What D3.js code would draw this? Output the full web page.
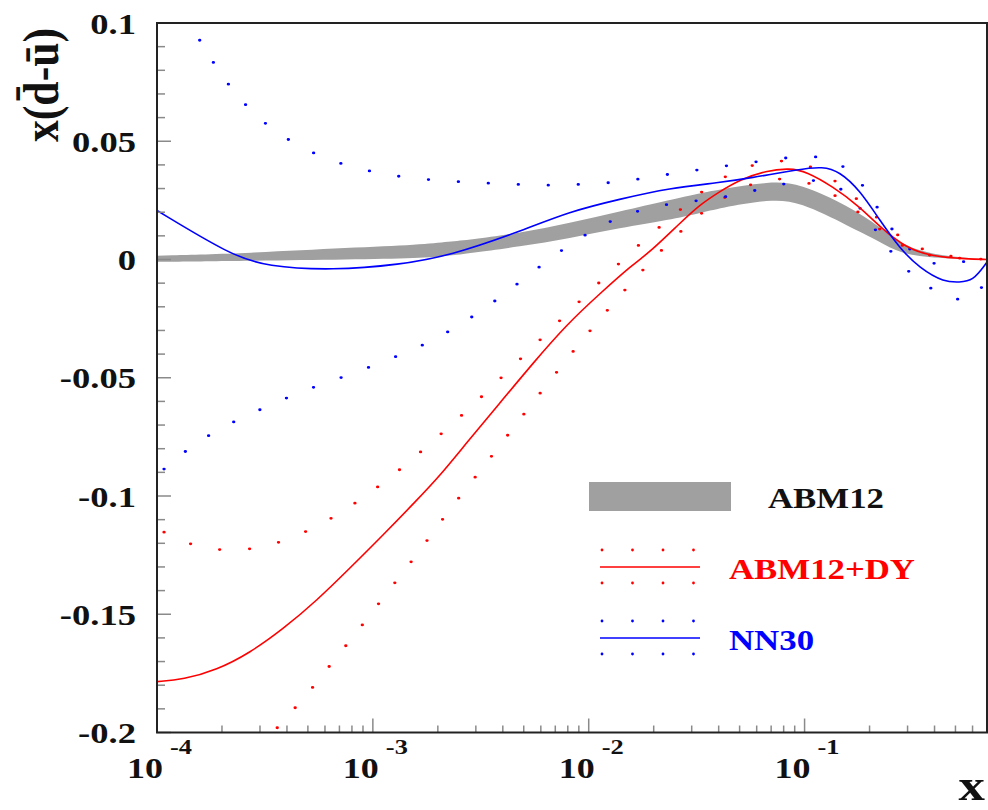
<!DOCTYPE html>
<html><head><meta charset="utf-8">
<script src="https://cdn.jsdelivr.net/npm/d3@7"></script>
<style>body{margin:0;background:#fff}svg{display:block}</style>
</head><body>
<svg id="c" width="988" height="810"></svg>
<script>
// ---- data ----
const xDomain = [1e-4, 0.7];
const yDomain = [-0.2, 0.1];
const yTickLabels = ["-0.2", "-0.15", "-0.1", "-0.05", "0", "0.05", "0.1"];
const xMajorTicks = [1e-4, 1e-3, 1e-2, 1e-1];
const xTickExponents = ["-4", "-3", "-2", "-1"];
const seriesNames = ["ABM12", "ABM12+DY", "NN30"];

// ABM12 band
const abm12X  = [1e-4, 2.7e-4, 7.8e-4, 1.65e-3, 2.27e-3, 2.81e-3, 4.79e-3, 8.16e-3, 1.39e-2, 2.37e-2, 3.27e-2, 4.04e-2, 6.89e-2, 9.48e-2, 0.1615, 0.2224, 0.2754, 0.379, 0.7];
const abm12Hi = [0.0016, 0.0027, 0.005, 0.0062, 0.0076, 0.0083, 0.0112, 0.0154, 0.0203, 0.0252, 0.028, 0.0297, 0.033, 0.0323, 0.0224, 0.0139, 0.0069, 0.002, 0.0];
const abm12Lo = [-0.001, -0.0005, 0.0, 0.0006, 0.0016, 0.0027, 0.0055, 0.009, 0.0133, 0.0168, 0.0196, 0.0217, 0.0255, 0.0245, 0.0139, 0.0076, 0.0027, 0.0006, 0.0];

// ABM12+DY
const dyCentral = [[1e-4,-0.1785],[1.323e-4,-0.1776],[1.889e-4,-0.1736],[2.696e-4,-0.1663],[3.843e-4,-0.1562],[5.487e-4,-0.1443],[7.828e-4,-0.1305],[1.116e-3,-0.1165],[1.593e-3,-0.1019],[2.042e-3,-0.0915],[2.715e-3,-0.0776],[3.873e-3,-0.0607],[5.522e-3,-0.0438],[7.883e-3,-0.0276],[1.124e-2,-0.0145],[1.603e-2,-0.002],[1.916e-2,0.003],[2.657e-2,0.0155],[3.265e-2,0.0231],[4.041e-2,0.0287],[5.001e-2,0.0337],[6.648e-2,0.0376],[8.522e-2,0.0386],[0.1018,0.0372],[0.1352,0.0308],[0.1797,0.0224],[0.2224,0.0139],[0.2955,0.0048],[0.3927,0.0013],[0.5605,0.0002],[0.7,0.0]];
const dyUpper = [[1.078e-4,-0.1153],[1.422e-4,-0.1207],[1.936e-4,-0.1231],[2.676e-4,-0.1228],[3.633e-4,-0.12],[4.881e-4,-0.1153],[6.439e-4,-0.1095],[8.343e-4,-0.1029],[1.066e-3,-0.0959],[1.358e-3,-0.0883],[1.709e-3,-0.0805],[2.143e-3,-0.0725],[2.686e-3,-0.0645],[3.345e-3,-0.0562],[4.141e-3,-0.048],[5.146e-3,-0.0395],[6.392e-3,-0.0313],[7.932e-3,-0.0228],[9.842e-3,-0.0146],[1.225e-2,-0.0063],[1.52e-2,0.002],[1.902e-2,0.01],[2.397e-2,0.0177],[3.04e-2,0.0255],[3.762e-2,0.0325],[5.147e-2,0.0386],[6.938e-2,0.0421],[9.552e-2,0.0414],[0.126,0.0362],[0.1603,0.0287],[0.2,0.0206],[0.2493,0.0125],[0.3206,0.0055],[0.4321,0.0013],[0.7,0.0]];
const dyLower = [[3.606e-4,-0.198],[4.386e-4,-0.1894],[5.332e-4,-0.1804],[6.391e-4,-0.1711],[7.687e-4,-0.1621],[9.251e-4,-0.1528],[1.109e-3,-0.1433],[1.329e-3,-0.1342],[1.593e-3,-0.1249],[1.896e-3,-0.1155],[2.249e-3,-0.1062],[2.715e-3,-0.0967],[3.254e-3,-0.0876],[3.901e-3,-0.0783],[4.676e-3,-0.0689],[5.606e-3,-0.0596],[6.721e-3,-0.0504],[8.077e-3,-0.0412],[9.716e-3,-0.0321],[1.182e-2,-0.0229],[1.432e-2,-0.0141],[1.746e-2,-0.0053],[2.143e-2,0.0034],[2.657e-2,0.0118],[3.335e-2,0.0199],[4.294e-2,0.0266],[5.664e-2,0.0323],[7.717e-2,0.0348],[0.1055,0.0327],[0.1391,0.0273],[0.1778,0.02],[0.2265,0.0123],[0.2881,0.0048],[0.3861,0.001],[0.7,0.0]];

// NN30
const nnCentral = [[1e-4,0.0207],[2.18e-4,0.002],[3.23e-4,-0.003],[6.53e-4,-0.0046],[1.334e-3,-0.0022],[2.27e-3,0.0016],[4.79e-3,0.0118],[8.16e-3,0.0203],[1.39e-2,0.0255],[2.37e-2,0.0302],[4.04e-2,0.0325],[5.56e-2,0.0344],[9.48e-2,0.0382],[0.1212,0.0393],[0.1452,0.0372],[0.1797,0.0294],[0.2224,0.0168],[0.2754,0.0048],[0.3407,-0.0036],[0.4448,-0.0097],[0.522,-0.0095],[0.5993,-0.0093],[0.6961,-0.0014]];
const nnUpper = [[1.577e-4,0.0927],[1.836e-4,0.0827],[2.171e-4,0.0731],[2.63e-4,0.0642],[3.275e-4,0.0562],[4.262e-4,0.0493],[5.623e-4,0.0438],[7.581e-4,0.0396],[1.032e-3,0.0368],[1.417e-3,0.0346],[1.957e-3,0.0335],[2.695e-3,0.0327],[3.71e-3,0.0321],[5.125e-3,0.0316],[7.036e-3,0.0313],[9.716e-3,0.0319],[1.334e-2,0.0325],[1.836e-2,0.0345],[2.52e-2,0.0365],[3.454e-2,0.0383],[4.742e-2,0.0401],[6.529e-2,0.0418],[8.989e-2,0.0435],[0.1238,0.0438],[0.1615,0.0382],[0.1957,0.029],[0.2265,0.019],[0.2704,0.0093],[0.3324,0.001],[0.4415,-0.0038],[0.591,0.0003],[0.6961,0.001]];
const nnLower = [[1.078e-4,-0.0886],[1.362e-4,-0.0807],[1.759e-4,-0.0739],[2.32e-4,-0.0681],[3.086e-4,-0.063],[4.127e-4,-0.0579],[5.521e-4,-0.0534],[7.422e-4,-0.0494],[9.968e-4,-0.045],[1.334e-3,-0.0404],[1.784e-3,-0.0355],[2.339e-3,-0.0296],[3.04e-3,-0.0229],[3.901e-3,-0.0159],[4.964e-3,-0.0084],[6.324e-3,-0.0011],[8.077e-3,0.0061],[1.051e-2,0.0125],[1.391e-2,0.0182],[1.889e-2,0.0218],[2.582e-2,0.0241],[3.536e-2,0.0252],[4.844e-2,0.0273],[6.648e-2,0.0304],[9.085e-2,0.033],[0.1255,0.0341],[0.1603,0.0278],[0.193,0.0185],[0.2265,0.0087],[0.2704,-0.0005],[0.3345,-0.009],[0.4368,-0.0153],[0.591,-0.0187],[0.6813,-0.0099]];

// ---- drawing ----
const FONT = "'Liberation Serif','Times New Roman',serif";
const STRETCH = 1.2;
const svg = d3.select("#c");
const L = 157, R = 987, T = 23, B = 732.5;
const x = d3.scaleLog().domain(xDomain).range([L, R]);
const y = d3.scaleLinear().domain(yDomain).range([B, T]);

svg.append("defs").append("clipPath").attr("id","clip")
  .append("rect").attr("x",L).attr("y",T).attr("width",R-L).attr("height",B-T);
const plot = svg.append("g").attr("clip-path","url(#clip)");

const RED = "#ff0000", BLUE = "#0000ff", GRAY = "#a0a0a0";

// band
const bandData = abm12X.map((v,i)=>({x:v, lo:abm12Lo[i], hi:abm12Hi[i]}));
plot.append("path").datum(bandData)
  .attr("fill", GRAY)
  .attr("d", d3.area().x(d=>x(d.x)).y0(d=>y(d.lo)).y1(d=>y(d.hi)).curve(d3.curveBasis));

const line = d3.line().x(d=>x(d[0])).y(d=>y(d[1])).curve(d3.curveBasis);
// dotted curves: drawn in an un-stretched frame so that dot spacing matches the source
const dotFrame = plot.append("g").attr("transform", `scale(${STRETCH},1)`);
const lineU = d3.line().x(d=>x(d[0])/STRETCH).y(d=>y(d[1])).curve(d3.curveBasis);
function dotted(data, color){
  dotFrame.append("path").datum(data).attr("d", lineU)
    .attr("fill","none").attr("stroke", color).attr("stroke-width",2.8)
    .attr("stroke-linecap","round").attr("stroke-dasharray","0 25");
}
function solid(data, color){
  plot.append("path").datum(data).attr("d", line)
    .attr("fill","none").attr("stroke", color).attr("stroke-width",1.6);
}
dotted(dyUpper, RED); dotted(dyLower, RED);
dotted(nnUpper, BLUE); dotted(nnLower, BLUE);
solid(dyCentral, RED);
solid(nnCentral, BLUE);

// y ticks
const yTicks = d3.range(-20, 11).map(i => i/100);
svg.append("g").selectAll("line").data(yTicks).join("line")
  .attr("x1", L).attr("x2", d => L + (Math.abs(Math.round(d*100)) % 5 === 0 ? 14 : 8))
  .attr("y1", d => y(d)).attr("y2", d => y(d))
  .attr("stroke", "#8a8a8a").attr("stroke-width", 1.5);
const yMajor = d3.range(-20, 11, 5).map(i => i/100);
svg.append("g").selectAll("text").data(yMajor).join("text")
  .attr("transform", d => `translate(136,${y(d)}) scale(1.22,1)`)
  .attr("text-anchor","end").attr("dy","0.35em")
  .attr("font-family", FONT).attr("font-weight","bold").attr("font-size",30)
  .attr("fill","#111")
  .text((d,i) => yTickLabels[i]);

// x ticks
const xMinor = [];
[-4,-3,-2,-1].forEach(e => { for (let k=2;k<=9;k++){ const v=k*Math.pow(10,e); if (v<=xDomain[1]) xMinor.push(v);} });
svg.append("g").selectAll("line").data(xMinor).join("line")
  .attr("x1", d=>x(d)).attr("x2", d=>x(d)).attr("y1", B).attr("y2", B-7)
  .attr("stroke","#8a8a8a").attr("stroke-width",1.5);
svg.append("g").selectAll("line").data(xMajorTicks).join("line")
  .attr("x1", d=>x(d)).attr("x2", d=>x(d)).attr("y1", B).attr("y2", B-14)
  .attr("stroke","#8a8a8a").attr("stroke-width",1.5);
const xl = svg.append("g").selectAll("g").data(xMajorTicks).join("g");
xl.append("text")
  .attr("transform", d => `translate(${x(d)+6},778) scale(${STRETCH},1)`)
  .attr("text-anchor","end")
  .attr("font-family", FONT).attr("font-weight","bold").attr("font-size",30).attr("fill","#111")
  .text("10");
xl.append("text")
  .attr("transform", d => `translate(${x(d)+13},754) scale(${STRETCH},1)`)
  .attr("text-anchor","start")
  .attr("font-family", FONT).attr("font-weight","bold").attr("font-size",22).attr("fill","#111")
  .text((d,i) => xTickExponents[i]);

// frame
svg.append("rect").attr("x",L).attr("y",T).attr("width",R-L).attr("height",B-T)
  .attr("fill","none").attr("stroke","#222").attr("stroke-width",2);

// axis titles
svg.append("text")
  .attr("transform", `translate(985,800) scale(${STRETCH},1)`)
  .attr("text-anchor","end")
  .attr("font-family", FONT).attr("font-weight","bold").attr("font-size",44).attr("fill","#111")
  .text("x");
svg.append("text")
  .attr("transform", "translate(58,28) rotate(-90) scale(1,1.2)")
  .attr("text-anchor","end")
  .attr("font-family", FONT).attr("font-weight","bold").attr("font-size",42).attr("fill","#111")
  .attr("textLength",114).attr("lengthAdjust","spacingAndGlyphs")
  .text("x(d\u0304-\u016B)");

// legend
const lg = svg.append("g");
lg.append("rect").attr("x",589).attr("y",482).attr("width",142).attr("height",29).attr("fill",GRAY);
const legendRows = [
  {name: seriesNames[0], color: "#111", ty: 508, tx: 768},
  {name: seriesNames[1], color: RED, ty: 579, tx: 729, ly: 567},
  {name: seriesNames[2], color: BLUE, ty: 650, tx: 729, ly: 638}
];
legendRows.forEach(r => {
  lg.append("text")
    .attr("transform", `translate(${r.tx},${r.ty}) scale(${STRETCH},1)`)
    .attr("font-family", FONT).attr("font-weight","bold").attr("font-size",29)
    .attr("fill", r.color).text(r.name);
  if (r.ly){
    lg.append("line").attr("x1",600).attr("x2",700).attr("y1",r.ly).attr("y2",r.ly)
      .attr("stroke", r.color).attr("stroke-width",1.6);
    [-17, 16].forEach(off => {
      lg.append("line").attr("x1",602).attr("x2",694).attr("y1",r.ly+off).attr("y2",r.ly+off)
        .attr("stroke", r.color).attr("stroke-width",2.8).attr("stroke-linecap","round")
        .attr("stroke-dasharray","0 30.5");
    });
  }
});
</script>
</body></html>
